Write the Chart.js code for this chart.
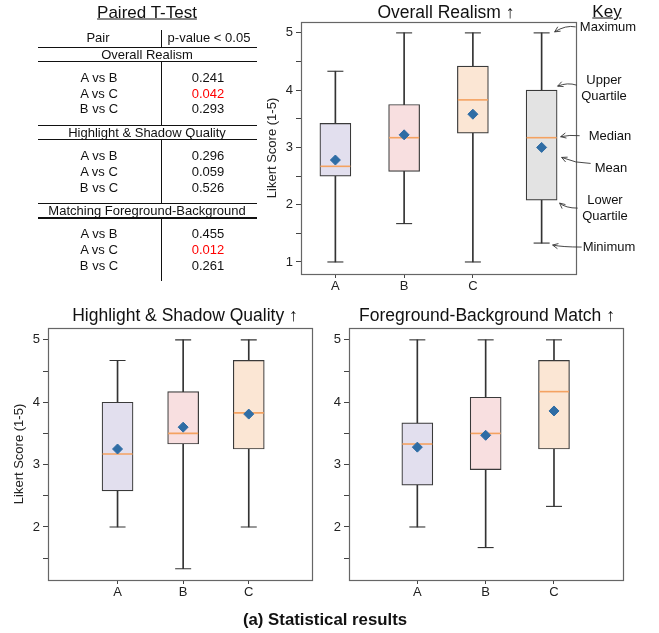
<!DOCTYPE html>
<html>
<head>
<meta charset="utf-8">
<script src="https://cdn.jsdelivr.net/npm/chart.js@4.4.1/dist/chart.umd.min.js"></script>
<style>
  html, body { margin: 0; padding: 0; background: #fff; }
  #fig { position: relative; width: 659px; height: 633px; overflow: hidden;
         font-family: "Liberation Sans", Arial, Helvetica, sans-serif; color: #111; }
  .t { position: absolute; transform: translate(-50%, -50%); white-space: nowrap; line-height: 1; }
  .ln { position: absolute; background: #111; }
  canvas { position: absolute; }
</style>
</head>
<body>
<div id="fig">
  <canvas id="realism" width="394" height="300" style="left:265px;top:0px"></canvas>
  <canvas id="highlight" width="329" height="310" style="left:0px;top:300px"></canvas>
  <canvas id="match" width="334" height="310" style="left:325px;top:300px"></canvas>
</div>
<script>
// ---- data ----
const boxLabels = ["A", "B", "C"];

// Overall Realism
const realMin = [1.00, 1.67, 1.00];
const realQ1 = [2.50, 2.58, 3.25];
const realMed = [2.67, 3.17, 3.83];
const realMean = [2.78, 3.22, 3.58];
const realQ3 = [3.42, 3.75, 4.42];
const realMax = [4.33, 5.00, 5.00];

// Key box (drawn next to Overall Realism)
const keyMin = 1.33, keyQ1 = 2.08, keyMed = 3.17, keyMean = 3.00, keyQ3 = 4.00, keyMax = 5.00;
const keyLabels = ["Maximum", "Upper\nQuartile", "Median", "Mean", "Lower\nQuartile", "Minimum"];

// Highlight & Shadow Quality
const hsMin = [2.00, 1.33, 2.00];
const hsQ1 = [2.58, 3.33, 3.25];
const hsMed = [3.17, 3.50, 3.83];
const hsMean = [3.25, 3.60, 3.81];
const hsQ3 = [4.00, 4.17, 4.67];
const hsMax = [4.67, 5.00, 5.00];

// Foreground-Background Match
const fbMin = [2.00, 1.67, 2.33];
const fbQ1 = [2.67, 2.92, 3.25];
const fbMed = [3.33, 3.50, 4.17];
const fbMean = [3.28, 3.47, 3.86];
const fbQ3 = [3.67, 4.08, 4.67];
const fbMax = [5.00, 5.00, 5.00];

// major ticks are labelled, half steps are minor ticks
const yTicks = [1, 1.5, 2, 2.5, 3, 3.5, 4, 4.5, 5];

// Paired t-test table
const testSections = ["Overall Realism", "Highlight & Shadow Quality", "Matching Foreground-Background"];
const testPairs = ["A vs B", "A vs C", "B vs C"];
const pRealism = [0.241, 0.042, 0.293];
const pHighlight = [0.296, 0.059, 0.526];
const pMatching = [0.455, 0.012, 0.261];

const boxFills = ["#e2dfee", "#f8dfe0", "#fbe6d4", "#e3e3e3"];
const FONT = '"Liberation Sans", Arial, Helvetica, sans-serif';

const fig = document.getElementById("fig");
function addText(txt, x, y, size, extra) {
  const d = document.createElement("div");
  d.className = "t";
  d.textContent = txt;
  d.style.left = x + "px";
  d.style.top = y + "px";
  d.style.fontSize = size + "px";
  if (extra) Object.assign(d.style, extra);
  fig.appendChild(d);
  return d;
}
function addLine(x, y, w, h) {
  const d = document.createElement("div");
  d.className = "ln";
  Object.assign(d.style, { left: x + "px", top: y + "px", width: w + "px", height: h + "px" });
  fig.appendChild(d);
}

// frame round the plot area
const framePlugin = {
  id: "frame",
  afterDraw(chart) {
    const { ctx, chartArea: a } = chart;
    ctx.save();
    ctx.strokeStyle = "#666";
    ctx.lineWidth = 1.2;
    ctx.strokeRect(Math.round(a.left) + 0.5, Math.round(a.top) + 0.5,
      Math.round(a.right - a.left), Math.round(a.bottom - a.top));
    ctx.restore();
  }
};

// arrows from the key labels to the key box
const keyValues = [keyMax, keyQ3, keyMed, keyMean, keyQ1, keyMin];
// [head dx, head dy, ctrl dx, ctrl dy, tail dx, tail dy] relative to key box centre / value
const keyArrowShape = [
  [13, -1, 24, -8, 34, -6],
  [16, -4, 26, -8, 35, -5],
  [19, -1, 28, -3, 38, -2],
  [20, 10, 34, 16, 49, 16],
  [18, 3, 24, 8, 36, 8],
  [11, 2, 21, 4, 40, 4]
];
const keyArrowPlugin = {
  id: "keyArrows",
  afterDraw(chart) {
    const { ctx, scales } = chart;
    const cx = scales.x.getPixelForValue(4);
    ctx.save();
    ctx.strokeStyle = "#333";
    ctx.lineWidth = 0.9;
    keyValues.forEach((v, i) => {
      const s = keyArrowShape[i];
      const cy = scales.y.getPixelForValue(v);
      const hx = cx + s[0], hy = cy + s[1];
      const qx = cx + s[2], qy = cy + s[3];
      const tx = cx + s[4], ty = cy + s[5];
      ctx.beginPath();
      ctx.moveTo(tx, ty);
      ctx.quadraticCurveTo(qx, qy, hx, hy);
      ctx.stroke();
      const ang = Math.atan2(hy - qy, hx - qx);
      ctx.beginPath();
      ctx.moveTo(hx - 6 * Math.cos(ang - 0.45), hy - 6 * Math.sin(ang - 0.45));
      ctx.lineTo(hx, hy);
      ctx.lineTo(hx - 6 * Math.cos(ang + 0.45), hy - 6 * Math.sin(ang + 0.45));
      ctx.stroke();
    });
    ctx.restore();
  }
};

function boxChart(id, s) {
  const pos = s.min.map((_, i) => i + 1);
  const pts = arr => arr.map((v, i) => ({ x: pos[i], y: v }));
  const rng = (a, b) => a.map((v, i) => ({ x: pos[i], y: [v, b[i]] }));
  const marks = (data, style, r, color, width, order) => ({
    type: "line", data: pts(data), showLine: false, pointStyle: style, pointRadius: r,
    pointHoverRadius: r, pointBackgroundColor: color, pointBorderColor: color,
    pointBorderWidth: width, order
  });
  return new Chart(document.getElementById(id), {
    type: "bar",
    data: {
      datasets: [
        marks(s.mean, "rectRot", 5, "#2f6da5", 1, 0),
        marks(s.med, "line", 15, "#f4a261", 1.6, 1),
        marks(s.max, "line", 8, "#333", 1.1, 2),
        marks(s.min, "line", 8, "#333", 1.1, 2),
        { type: "bar", data: rng(s.q1, s.q3), backgroundColor: s.fills, borderColor: "#3a3a3a",
          borderWidth: 1.2, borderSkipped: false, barThickness: 31, grouped: false, order: 3 },
        { type: "bar", data: rng(s.min, s.max), backgroundColor: "#333",
          barThickness: 1, grouped: false, order: 4 }
      ]
    },
    options: {
      responsive: false,
      animation: false,
      events: [],
      layout: { padding: s.pad },
      plugins: { legend: { display: false }, tooltip: { enabled: false } },
      scales: {
        x: {
          type: "linear", min: s.xMin, max: s.xMax, offset: false,
          afterBuildTicks: ax => { ax.ticks = boxLabels.map((_, i) => ({ value: i + 1 })); },
          afterFit: ax => { ax.height = s.xh; },
          ticks: { callback: v => boxLabels[v - 1] || "", color: "#222", autoSkip: false,
                   maxRotation: 0, padding: 1, font: { family: FONT, size: 13 } },
          grid: { offset: false, drawOnChartArea: false, tickLength: 4, tickColor: "#444" },
          border: { display: false }
        },
        y: {
          min: s.yMin, max: s.yMax,
          afterBuildTicks: ax => {
            ax.ticks = yTicks.filter(v => v >= s.yMin && v <= s.yMax).map(v => ({ value: v }));
          },
          afterFit: ax => { ax.width = s.yw; },
          ticks: { callback: v => Number.isInteger(v) ? String(v) : "", color: "#222",
                   padding: 3, font: { family: FONT, size: 13 } },
          grid: { drawOnChartArea: false, tickLength: 5, tickColor: "#444" },
          border: { display: false },
          title: { display: true, text: "Likert Score (1-5)", color: s.showTitle ? "#222" : "rgba(0,0,0,0)",
                   font: { family: FONT, size: 13 }, padding: { top: s.titlePad, bottom: 0 } }
        }
      }
    },
    plugins: s.plugins
  });
}

boxChart("realism", {
  min: realMin.concat([keyMin]), q1: realQ1.concat([keyQ1]), med: realMed.concat([keyMed]),
  mean: realMean.concat([keyMean]), q3: realQ3.concat([keyQ3]), max: realMax.concat([keyMax]),
  fills: boxFills, xMin: 0.5, xMax: 4.5, yMin: 0.79, yMax: 5.19,
  yw: 36, xh: 26, showTitle: true, titlePad: 0,
  pad: { top: 22, right: 83, bottom: 0, left: 0 },
  plugins: [framePlugin, keyArrowPlugin]
});
boxChart("highlight", {
  min: hsMin, q1: hsQ1, med: hsMed, mean: hsMean, q3: hsQ3, max: hsMax,
  fills: boxFills, xMin: -0.06, xMax: 3.97, yMin: 1.15, yMax: 5.19,
  yw: 48, xh: 30, showTitle: true, titlePad: 12,
  pad: { top: 28, right: 7, bottom: 0, left: 0 }, plugins: [framePlugin]
});
boxChart("match", {
  min: fbMin, q1: fbQ1, med: fbMed, mean: fbMean, q3: fbQ3, max: fbMax,
  fills: boxFills, xMin: 0, xMax: 4.01, yMin: 1.15, yMax: 5.19,
  yw: 24, xh: 30, showTitle: false, titlePad: 0,
  pad: { top: 28, right: 36, bottom: 0, left: 0 }, plugins: [framePlugin]
});

// titles, key, caption
addText("Overall Realism \u2191", 446, 13, 17.5);
addText("Highlight & Shadow Quality \u2191", 185, 316, 17.5);
addText("Foreground-Background Match \u2191", 487, 316, 17.5);
addText("Key", 607, 11, 17, { textDecoration: "underline" });
const keyPos = [[608, 27], [604, 88], [610, 136], [611, 168], [605, 208], [609, 247]];
keyLabels.forEach((k, i) => {
  addText(k, keyPos[i][0], keyPos[i][1], 13, { whiteSpace: "pre", textAlign: "center", lineHeight: "16px" });
});
addText("(a) Statistical results", 325, 620, 16.8, { fontWeight: "bold" });

// paired t-test table
addText("Paired T-Test", 147, 12, 17, { textDecoration: "underline" });
addText("Pair", 98, 37, 13);
addText("p-value < 0.05", 209, 37, 13);
const pValues = [pRealism, pHighlight, pMatching];
addLine(160.5, 30, 1.3, 17);
testSections.forEach((name, s) => {
  const top = 46.5 + 78.2 * s;
  addLine(38, top, 219, 1.3);
  addText(name, 147, top + 7, 13);
  addLine(38, top + 14.5, 219, 1.3);
  const end = s < testSections.length - 1 ? 46.5 + 78.2 * (s + 1) : 281;
  addLine(160.5, top + 14.5, 1.3, end - top - 14.5);
  testPairs.forEach((p, k) => {
    const y = top + 30.5 + 15.7 * k;
    const v = pValues[s][k];
    addText(p, 99, y, 13);
    addText(v.toFixed(3), 208, y, 13, { color: v < 0.05 ? "#f00" : "#111" });
  });
});
</script>
</body>
</html>
